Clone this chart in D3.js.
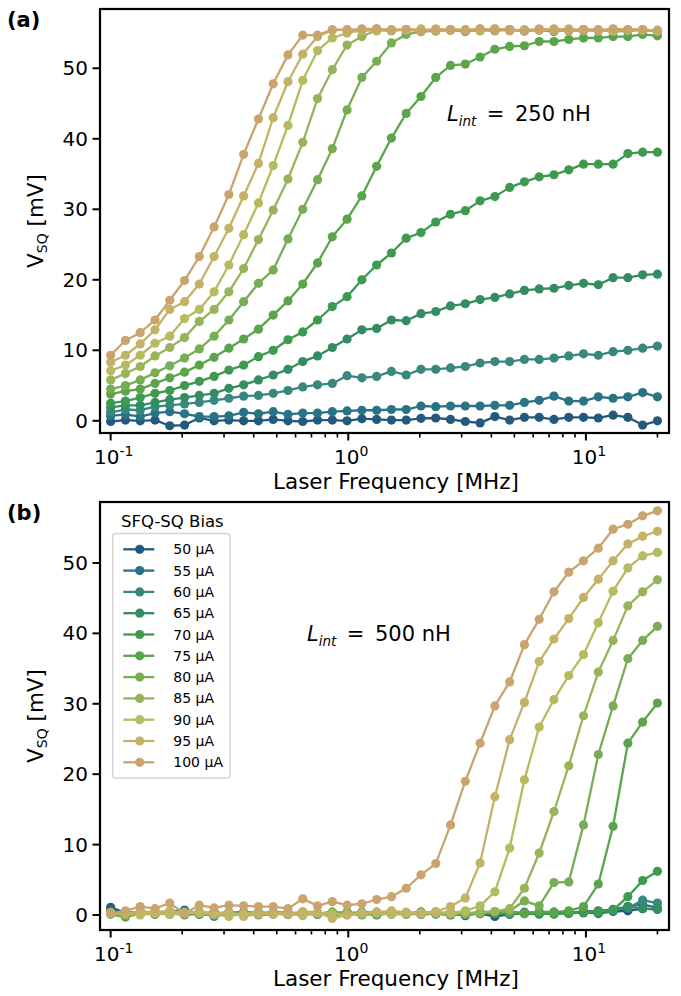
<!DOCTYPE html>
<html><head><meta charset="utf-8">
<script src="https://cdn.jsdelivr.net/npm/d3@7"></script>
<style>
body{margin:0;background:#fff}
text{font-family:"DejaVu Sans",sans-serif;fill:#000}
</style>
</head><body>
<svg id="chart" width="681" height="996"></svg>
<script>
// ---------- data ----------
const freq = [0.1, 0.1154, 0.1332, 0.1537, 0.1773, 0.2046, 0.2361, 0.2725, 0.3144, 0.3628,
  0.4187, 0.4831, 0.5575, 0.6433, 0.7424, 0.8566, 0.9885, 1.1407, 1.3163, 1.5190,
  1.7528, 2.0227, 2.3340, 2.6934, 3.1080, 3.5865, 4.1386, 4.7757, 5.5109, 6.3593,
  7.3384, 8.4681, 9.7717, 11.276, 13.012, 15.015, 17.327, 20.0];

const biasLabels = ["50 µA","55 µA","60 µA","65 µA","70 µA","75 µA","80 µA","85 µA","90 µA","95 µA","100 µA"];
const colors = ["#235a7c","#2a7384","#388880","#348d62","#3e9a4f","#5aa54b","#78ad55","#97b45a","#b6bb60","#c4b266","#c9a46f"];

// Panel (a): L_int = 250 nH  (V_SQ in mV)
const a50  = [-0.1,0.1,0.0,0.1,-0.7,-0.6,0.4,0.0,0.1,0.0,0.0,0.2,0.0,-0.1,0.1,0.1,0.0,0.3,0.2,
              0.1,0.1,0.35,0.4,0.2,-0.1,-0.3,0.6,0.1,0.5,0.5,0.2,0.5,0.5,0.4,0.8,0.5,-0.6,0.0];
const a55  = [0.7,0.9,0.6,1.1,1.3,1.0,0.6,0.6,0.7,1.2,1.0,1.3,0.9,1.1,1.1,1.3,1.4,1.5,1.5,
              1.6,1.6,2.1,2.0,2.1,2.1,2.1,2.2,2.2,2.6,2.9,3.5,2.8,2.8,3.4,3.2,3.4,4.0,3.4];
const a60  = [1.2,1.6,1.5,2.0,2.2,2.4,2.6,2.9,3.2,3.5,3.6,3.9,4.3,4.8,5.1,5.3,6.4,6.1,6.3,
              7.0,6.5,7.3,7.3,7.5,7.7,8.2,8.4,8.4,8.7,8.7,8.9,9.2,9.5,9.3,9.8,10.0,10.3,10.6];
const a65  = [1.9,2.2,2.2,2.6,3.0,3.3,3.6,3.9,4.6,5.1,5.8,6.5,7.3,8.4,9.2,10.4,11.6,12.9,13.1,
              14.3,14.2,15.2,15.5,16.3,16.6,17.2,17.5,18.0,18.5,18.7,18.8,19.2,19.5,19.3,20.3,20.3,20.7,20.8];
const a70  = [2.5,2.8,3.3,3.9,4.3,5.0,5.6,6.3,7.2,7.9,9.1,10.0,11.5,12.6,14.3,16.2,17.6,20.0,22.1,
              23.8,25.9,26.7,28.2,29.3,29.8,31.2,31.8,33.1,33.9,34.6,34.9,35.6,36.4,36.4,36.4,37.9,38.1,38.1];
const a75  = [3.8,4.2,4.5,5.3,6.1,6.9,7.9,9.0,10.3,11.6,13.0,15.0,17.0,19.4,22.4,26.1,28.6,31.9,36.1,
              40.1,43.6,46.0,48.7,50.4,50.6,51.6,52.7,53.1,53.2,53.8,53.8,54.1,54.3,54.3,54.5,54.5,54.8,54.6];
const a80  = [4.5,5.0,5.8,6.8,7.8,8.9,10.2,12.0,14.3,16.9,19.5,21.4,25.8,30.0,34.2,38.6,44.1,48.7,51.0,
              53.6,54.8,55.2,55.3,55.4,55.2,55.4,55.3,55.5,55.3,55.4,55.2,55.4,55.3,55.4,55.2,55.3,55.4,55.2];
const a85  = [5.8,6.7,7.7,9.2,10.4,11.8,14.1,15.8,18.3,21.6,25.7,29.9,34.3,39.5,45.7,49.8,53.3,54.5,55.4,
              55.3,55.5,55.4,55.3,55.5,55.4,55.3,55.6,55.4,55.3,55.5,55.4,55.3,55.5,55.4,55.3,55.4,55.5,55.3];
const a90  = [7.1,7.9,9.3,11.0,12.0,14.5,15.8,18.3,22.1,26.4,30.9,36.2,41.9,48.3,52.5,54.3,55.0,55.4,55.3,
              55.5,55.4,55.6,55.3,55.5,55.4,55.6,55.4,55.5,55.3,55.5,55.6,55.4,55.5,55.3,55.5,55.4,55.5,55.3];
const a95  = [8.3,9.3,10.9,12.9,15.8,16.9,19.4,23.3,27.3,31.9,36.5,43.0,48.1,52.0,54.5,55.4,55.5,55.3,55.6,
              55.4,55.5,55.3,55.6,55.4,55.5,55.4,55.6,55.3,55.5,55.4,55.5,55.6,55.4,55.5,55.3,55.5,55.4,55.4];
const a100 = [9.3,11.4,12.5,14.3,17.1,19.9,23.3,27.5,32.1,37.8,42.8,47.8,51.9,54.7,54.7,55.5,55.4,55.6,55.6,
              55.4,55.5,55.3,55.5,55.4,55.3,55.6,55.4,55.5,55.3,55.6,55.4,55.3,55.5,55.4,55.6,55.5,55.4,55.3];

// Panel (b): L_int = 500 nH
const b50  = [1.1,0.3,0.2,0.4,0.3,0.5,0.1,0.2,0.3,0.4,0.2,0.3,0.1,0.2,0.3,0.0,0.2,0.3,0.1,0.2,
              0.3,0.1,0.2,0.0,0.3,0.2,-0.2,0.1,0.2,0.3,0.2,0.3,0.4,0.2,0.5,0.6,0.9,0.8];
const b55  = [0.6,0.4,0.3,0.2,0.5,0.7,0.2,0.4,0.1,0.3,0.2,0.4,0.3,0.2,0.1,0.3,0.2,0.4,0.3,0.1,
              0.2,0.4,0.3,0.2,-0.1,0.3,0.2,0.4,0.3,0.2,0.4,0.3,0.5,0.6,0.8,1.2,1.5,1.0];
const b60  = [0.4,0.2,0.5,0.3,0.1,0.4,0.3,-0.2,0.2,0.3,0.4,0.2,0.1,0.3,0.2,0.4,0.3,0.1,0.2,0.3,
              0.2,0.4,0.1,0.3,0.2,0.2,0.3,0.1,0.4,0.3,0.2,0.4,0.3,0.5,0.7,1.0,2.1,1.7];
const b65  = [0.3,0.1,0.2,0.4,0.2,0.1,0.3,0.2,0.4,0.1,0.3,0.2,0.3,0.1,0.2,0.3,0.1,0.3,0.2,0.4,
              0.1,0.2,0.3,0.2,0.1,0.4,0.2,0.3,0.2,0.1,0.3,0.2,0.4,0.3,0.6,1.2,0.9,0.8];
const b70  = [0.2,0.0,0.3,0.1,0.4,0.2,0.1,0.3,0.2,0.0,0.3,0.2,0.1,0.3,0.2,0.1,0.4,0.2,0.0,0.3,
              0.2,0.1,0.3,0.2,0.1,0.3,0.2,0.4,0.2,0.3,0.1,0.3,0.4,0.5,0.7,2.6,4.9,6.2];
const b75  = [0.1,-0.3,0.2,0.1,0.3,0.0,0.2,0.1,0.3,0.2,0.0,0.1,0.3,0.2,0.1,0.3,0.2,0.0,0.4,0.2,
              0.1,0.3,0.2,0.3,0.1,0.2,0.4,0.3,0.2,0.5,0.4,0.6,1.2,4.4,12.6,24.4,27.4,30.1];
const b80  = [0.3,0.1,0.2,0.4,0.1,0.3,0.2,0.0,0.2,0.3,0.1,0.2,0.3,0.1,0.2,0.4,0.2,0.1,0.3,0.2,
              0.3,0.1,0.2,0.4,0.2,0.3,0.5,0.6,2.0,1.3,4.6,4.7,12.8,22.8,29.7,36.4,39.0,41.0];
const b85  = [0.2,0.0,0.3,0.2,0.1,0.4,0.2,0.1,0.3,-0.1,0.2,0.3,0.1,0.2,0.3,0.1,0.2,0.3,0.4,0.2,
              0.1,0.3,0.2,0.1,0.3,0.4,0.5,0.9,3.8,8.8,14.7,21.2,28.3,34.5,39.0,43.9,45.9,47.6];
const b90  = [0.3,0.2,0.0,0.3,0.1,0.2,0.4,0.1,-0.2,0.2,0.3,0.1,0.2,-0.1,0.3,0.2,0.0,0.3,0.2,0.1,
              0.3,0.2,0.4,0.3,0.6,1.3,3.3,9.5,19.2,26.7,30.6,34.0,37.0,41.5,46.0,49.3,51.0,51.5];
const b95  = [0.3,0.2,0.5,0.4,0.6,0.3,0.5,0.2,0.4,-0.2,0.1,0.3,0.2,0.5,0.4,-0.5,0.0,0.2,0.4,0.6,
              0.4,0.3,0.5,1.2,2.4,7.4,16.8,24.9,30.2,36.0,39.2,42.1,45.1,47.7,50.3,52.7,53.8,54.5];
const b100 = [0.2,0.6,1.2,0.9,1.7,0.2,1.4,1.0,1.4,1.3,1.2,1.2,0.9,2.3,1.3,1.9,1.4,1.6,2.2,2.6,
              3.8,5.7,7.3,12.8,19.0,24.4,29.7,33.1,38.4,42.0,45.9,48.7,50.3,52.1,54.8,55.5,56.7,57.4];

const xMajor = [0.1, 1, 10];
const xMajorExp = ["-1", "0", "1"];
const yTicks = [0, 10, 20, 30, 40, 50];

const seriesA = [a50,a55,a60,a65,a70,a75,a80,a85,a90,a95,a100];
const seriesB = [b50,b55,b60,b65,b70,b75,b80,b85,b90,b95,b100];

// ---------- drawing ----------
const svg = d3.select("#chart");

function panel(cfg) {
  const x = d3.scaleLog().domain([0.0902, 22.37]).range([cfg.left, cfg.right]);
  const y = d3.scaleLinear().domain(cfg.yDomain).range([cfg.bottom, cfg.top]);
  const g = svg.append("g");

  // minor x ticks
  const minor = [];
  for (let k = -2; k <= 1; k++) for (let m = 2; m <= 9; m++) {
    const v = m * Math.pow(10, k);
    if (v > x.domain()[0] && v < x.domain()[1]) minor.push(v);
  }
  g.selectAll(".mnr").data(minor).enter().append("line")
    .attr("x1", d => x(d)).attr("x2", d => x(d))
    .attr("y1", cfg.bottom).attr("y2", cfg.bottom + 4.5)
    .attr("stroke", "#000").attr("stroke-width", 1.6);
  g.selectAll(".mjr").data(xMajor).enter().append("line")
    .attr("x1", d => x(d)).attr("x2", d => x(d))
    .attr("y1", cfg.bottom).attr("y2", cfg.bottom + 7.5)
    .attr("stroke", "#000").attr("stroke-width", 2);
  const xl = g.selectAll(".xl").data(xMajor).enter().append("text")
    .attr("x", d => x(d) + 3).attr("y", cfg.bottom + 31)
    .attr("text-anchor", "middle").attr("font-size", 20);
  xl.append("tspan").text("10");
  xl.append("tspan").attr("dy", -8).attr("font-size", 14).text((d, i) => xMajorExp[i]);

  // y ticks
  g.selectAll(".yt").data(yTicks).enter().append("line")
    .attr("x1", cfg.left - 7.5).attr("x2", cfg.left)
    .attr("y1", d => y(d)).attr("y2", d => y(d))
    .attr("stroke", "#000").attr("stroke-width", 2);
  g.selectAll(".yl").data(yTicks).enter().append("text")
    .attr("x", cfg.left - 12).attr("y", d => y(d) + 7)
    .attr("text-anchor", "end").attr("font-size", 20).text(d => d);

  // clip
  const cid = "clip" + cfg.name;
  svg.append("clipPath").attr("id", cid).append("rect")
    .attr("x", cfg.left).attr("y", cfg.top)
    .attr("width", cfg.right - cfg.left).attr("height", cfg.bottom - cfg.top);
  const pg = g.append("g").attr("clip-path", `url(#${cid})`);

  const line = d3.line().x((d, i) => x(freq[i])).y(d => y(d));
  cfg.series.forEach((s, k) => {
    const sg = pg.append("g");
    sg.append("path").attr("d", line(s)).attr("fill", "none")
      .attr("stroke", colors[k]).attr("stroke-width", 2.3).attr("stroke-linejoin", "round");
    sg.selectAll("circle").data(s).enter().append("circle")
      .attr("cx", (d, i) => x(freq[i])).attr("cy", d => y(d)).attr("r", 4.6)
      .attr("fill", colors[k]);
  });

  // frame
  g.append("rect").attr("x", cfg.left).attr("y", cfg.top)
    .attr("width", cfg.right - cfg.left).attr("height", cfg.bottom - cfg.top)
    .attr("fill", "none").attr("stroke", "#000").attr("stroke-width", 2.2);

  // axis labels
  g.append("text").attr("x", 396).attr("y", cfg.bottom + 56)
    .attr("text-anchor", "middle").attr("font-size", 21.5).text("Laser Frequency [MHz]");
  const yc = (cfg.top + cfg.bottom) / 2;
  const yl = g.append("text").attr("transform", `translate(43,${yc}) rotate(-90)`)
    .attr("text-anchor", "middle").attr("font-size", 21.5);
  yl.append("tspan").text("V");
  yl.append("tspan").attr("font-size", 14).attr("dy", 4).text("SQ");
  yl.append("tspan").attr("dy", -4).text(" [mV]");

  // panel tag
  svg.append("text").attr("x", 7).attr("y", cfg.top + 18)
    .attr("font-size", 21).attr("font-weight", "bold").text(cfg.tag);

  // annotation
  const an = g.append("text").attr("x", cfg.annX).attr("y", cfg.annY).attr("font-size", 21);
  an.append("tspan").attr("font-style", "italic").text("L");
  an.append("tspan").attr("font-style", "italic").attr("font-size", 13.5).attr("dy", 5).text("int");
  an.append("tspan").attr("dy", -5).text("\u2002=\u2002" + cfg.ann);
  return {x, y, g};
}

panel({name: "a", left: 100, right: 669, top: 9, bottom: 433, yDomain: [-1.73, 58.41],
  series: seriesA, tag: "(a)", ann: "250 nH", annX: 447, annY: 121});
panel({name: "b", left: 100, right: 669, top: 502, bottom: 930, yDomain: [-2.13, 58.66],
  series: seriesB, tag: "(b)", ann: "500 nH", annX: 307, annY: 641});

// legend
const lg = svg.append("g");
lg.append("text").attr("x", 121).attr("y", 527).attr("font-size", 16.5).text("SFQ-SQ Bias");
lg.append("rect").attr("x", 112.7).attr("y", 533.5).attr("width", 117.3).attr("height", 244.5)
  .attr("rx", 3).attr("fill", "#fff").attr("fill-opacity", 0.85)
  .attr("stroke", "#d4d4d4").attr("stroke-width", 1.5);
const items = lg.selectAll(".it").data(biasLabels).enter().append("g")
  .attr("transform", (d, i) => `translate(0,${549.3 + i * 21.3})`);
items.append("line").attr("x1", 123.3).attr("x2", 154.3).attr("y1", 0).attr("y2", 0)
  .attr("stroke", (d, i) => colors[i]).attr("stroke-width", 2.3);
items.append("circle").attr("cx", 139.7).attr("cy", 0).attr("r", 4.6).attr("fill", (d, i) => colors[i]);
items.append("text").attr("x", 173.3).attr("y", 5).attr("font-size", 14).text(d => d);
</script>
</body></html>
